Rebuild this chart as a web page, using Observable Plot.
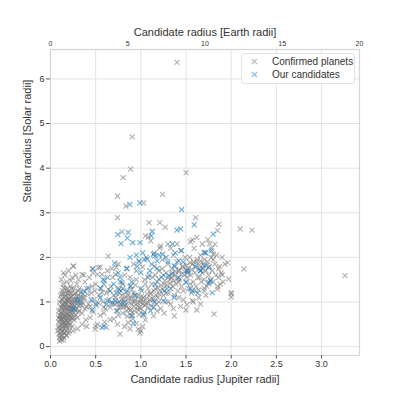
<!DOCTYPE html>
<html>
<head>
<meta charset="utf-8">
<script src="https://cdn.jsdelivr.net/npm/d3@7"></script>
<script src="https://cdn.jsdelivr.net/npm/@observablehq/plot@0.6"></script>
<style>
body { margin: 0; background: #fff; }
#wrap { position: relative; width: 399px; height: 399px; font-family: "Liberation Sans", Arial, sans-serif; }
#legend { position: absolute; left: 241px; top: 53px; width: 112px; height: 29px; border: 1px solid #e2e2e2; border-radius: 3px; background: rgba(255,255,255,0.85); font-size: 10px; color: #333; }
#legend .row { position: absolute; left: 0; height: 13px; line-height: 13px; white-space: nowrap; }
#legend svg { position: absolute; left: 9px; top: 3px; }
#legend span { position: absolute; left: 30px; }
</style>
</head>
<body>
<div id="wrap"></div>
<script>
const xTicks = [0, 0.5, 1.0, 1.5, 2.0, 2.5, 3.0];
const yTicks = [0, 1, 2, 3, 4, 5, 6];
const earthTicks = [0, 5, 10, 15, 20];
const xTitle = "Candidate radius [Jupiter radii]";
const topTitle = "Candidate radius [Earth radii]";
const yTitle = "Stellar radius [Solar radii]";
const seriesNames = ["Confirmed planets", "Our candidates"];
const seriesColors = ["#7a7a7a", "#1a80c2"];

// Confirmed planets: [Jupiter radii, Solar radii]
const confirmed = [
[1.40,6.37],[0.905,4.70],[0.886,3.98],[0.805,3.79],[1.50,3.90],[0.742,3.37],[0.834,3.15],[1.03,3.22],[1.24,3.41],[1.606,2.89],[0.742,2.89],[1.09,2.78],[1.21,2.78],[1.27,2.67],[1.864,2.74],[1.85,2.60],[2.10,2.64],[2.23,2.61],[2.14,1.74],[3.26,1.59],[1.96,1.88],[1.90,2.0],[1.97,1.51],[2.0,1.18],[2.0,1.11],[2.0,1.21],[1.81,0.73],[1.57,2.39],[1.76,2.31],[1.82,2.29],[1.80,2.07],[1.05,2.48],[1.085,2.46],[1.11,2.37],[1.21,2.21],[1.30,2.30],[0.79,2.57],[1.62,0.82],[1.50,0.82],[1.51,0.94],[1.57,1.03],[1.64,1.27],[1.70,1.31],[1.42,1.10],[1.85,1.29],[1.88,1.40],[1.90,1.61],[1.86,1.74],[1.80,1.95],[1.37,0.69],[1.14,0.69],[0.64,2.03],[0.255,1.81],[0.35,1.62],[0.46,1.74],[0.53,1.77],[0.57,1.62],[0.73,1.77],[0.77,0.28],[0.97,0.39],[0.86,0.54],[0.90,0.76],[0.62,0.43],[0.495,0.39],[0.44,0.65],[0.59,0.88],[0.50,0.46],
[0.36,1.10],[0.38,0.85],[0.40,1.30],[0.42,0.95],[0.43,1.55],[0.45,1.20],[0.47,0.78],[0.48,1.05],[0.50,1.40],[0.51,0.92],[0.52,1.62],[0.54,1.15],[0.55,0.70],[0.56,1.30],[0.58,1.00],[0.60,1.48],[0.61,0.85],[0.62,1.20],[0.63,1.70],[0.65,1.05],[0.66,0.60],[0.67,1.35],[0.68,0.95],[0.69,1.55],[0.70,1.15],[0.38,1.45],[0.41,1.18],[0.44,0.90],[0.46,1.35],[0.49,1.25],[0.53,0.98],[0.57,1.22],[0.59,0.75],[0.64,1.28],[0.66,0.88],[0.70,0.62],[0.39,0.60],[0.37,1.60],[0.47,1.65],[0.55,1.78],[0.68,1.75],[0.60,0.55],[0.52,0.50],
[0.71,0.95],[0.72,1.10],[0.73,0.80],[0.74,1.30],[0.75,0.70],[0.76,1.00],[0.77,1.45],[0.78,0.88],[0.79,1.15],[0.80,0.75],[0.81,1.05],[0.82,1.60],[0.83,0.92],[0.84,1.22],[0.85,0.68],[0.86,1.00],[0.87,0.85],[0.88,1.35],[0.89,1.10],[0.90,0.95],[0.91,0.62],[0.92,1.20],[0.93,0.80],[0.94,1.05],[0.95,1.50],[0.96,0.90],[0.97,1.15],[0.98,0.72],[0.99,1.00],[1.00,0.85],[1.01,1.25],[1.02,0.95],[1.03,1.10],[1.04,0.78],[1.05,1.40],[1.06,0.98],[1.07,1.18],[1.08,0.88],[1.09,1.60],[1.10,1.05],[0.72,1.62],[0.75,1.85],[0.80,1.40],[0.85,1.75],[0.88,1.55],[0.92,1.85],[0.95,1.70],[0.98,1.90],[1.02,1.78],[1.06,2.00],[0.74,0.50],[0.82,0.45],[0.88,0.40],[0.95,0.52],[1.00,0.35],[1.02,0.45],[1.05,0.60],[0.99,0.30],[0.78,1.25],[0.84,0.80],[0.90,1.28],[0.93,1.00],[0.97,0.82],[1.00,1.05],[1.03,0.70],[1.08,1.30],[0.86,1.15],[0.81,0.90],[0.76,1.20],[0.94,1.38],[1.04,1.50],[0.89,0.70],
[1.11,1.20],[1.12,0.90],[1.13,1.55],[1.14,1.05],[1.15,1.80],[1.16,1.30],[1.17,0.95],[1.18,1.45],[1.19,1.10],[1.20,1.70],[1.21,1.25],[1.22,0.85],[1.23,1.55],[1.24,1.95],[1.25,1.15],[1.26,1.40],[1.27,1.00],[1.28,1.65],[1.29,1.30],[1.30,1.85],[1.31,1.20],[1.32,1.50],[1.33,0.95],[1.34,1.75],[1.35,1.35],[1.36,2.05],[1.37,1.15],[1.38,1.60],[1.39,1.40],[1.40,1.90],[1.41,1.25],[1.42,1.70],[1.43,1.50],[1.44,2.15],[1.45,1.35],[1.46,1.80],[1.47,1.05],[1.48,1.60],[1.49,2.00],[1.50,1.45],[1.12,1.40],[1.15,2.10],[1.18,0.80],[1.22,2.25],[1.26,0.75],[1.30,1.00],[1.33,2.20],[1.36,0.85],[1.40,2.30],[1.44,0.90],[1.47,1.25],[1.20,1.00],[1.28,1.20],[1.34,1.55],[1.38,1.80],[1.42,1.45],[1.16,1.60],[1.24,1.75],
[1.51,1.55],[1.52,1.75],[1.53,1.30],[1.54,2.00],[1.55,1.60],[1.56,1.20],[1.57,1.85],[1.58,1.45],[1.59,2.20],[1.60,1.65],[1.61,1.35],[1.62,1.90],[1.63,1.55],[1.64,1.10],[1.65,1.75],[1.66,2.05],[1.67,1.45],[1.68,1.65],[1.69,1.85],[1.70,1.50],[1.71,2.10],[1.72,1.70],[1.73,1.35],[1.74,1.90],[1.75,1.60],[1.76,1.80],[1.77,1.50],[1.78,2.00],[1.79,1.70],[1.80,1.45],[1.82,1.85],[1.83,1.60],[1.84,2.05],[1.86,1.55],[1.87,1.80],[1.89,1.65],[1.91,1.45],[1.93,1.85],[1.55,2.35],[1.62,2.45],[1.68,2.30],[1.74,2.40],[1.78,2.20],[1.58,1.00],[1.66,0.95],[1.72,1.15],[1.60,1.25],[1.70,1.25],[1.55,1.40],[1.65,1.55],[1.75,1.40],[1.85,1.35],
[0.08,0.35],[0.09,0.55],[0.09,0.80],[0.10,0.20],[0.10,0.45],[0.10,0.70],[0.10,1.00],[0.11,0.30],[0.11,0.60],[0.11,0.90],[0.11,1.15],[0.12,0.15],[0.12,0.40],[0.12,0.75],[0.12,1.05],[0.13,0.25],[0.13,0.50],[0.13,0.85],[0.13,1.25],[0.14,0.35],[0.14,0.65],[0.14,0.95],[0.14,1.40],[0.15,0.20],[0.15,0.55],[0.15,0.80],[0.15,1.10],[0.16,0.30],[0.16,0.70],[0.16,1.00],[0.16,1.30],[0.17,0.45],[0.17,0.85],[0.17,1.20],[0.18,0.25],[0.18,0.60],[0.18,0.95],[0.18,1.45],[0.19,0.40],[0.19,0.75],[0.19,1.10],[0.20,0.55],[0.20,0.90],[0.20,1.25],[0.21,0.35],[0.21,0.70],[0.21,1.05],[0.22,0.50],[0.22,0.85],[0.22,1.35],[0.23,0.65],[0.23,1.00],[0.23,1.20],[0.24,0.45],[0.24,0.80],[0.24,1.55],[0.25,0.95],[0.25,1.15],[0.26,0.60],[0.26,0.75],[0.26,1.30],[0.27,0.90],[0.27,1.05],[0.28,0.70],[0.28,1.20],[0.29,0.85],[0.29,1.40],[0.30,1.00],[0.30,0.65],[0.31,1.15],[0.32,0.80],[0.32,1.30],[0.33,0.95],[0.34,1.10],[0.35,0.75],[0.10,0.12],[0.11,0.50],[0.12,0.62],[0.13,0.70],[0.14,0.78],[0.15,0.40],[0.16,0.55],[0.17,0.68],[0.18,0.80],[0.19,0.55],[0.20,0.70],[0.21,0.90],[0.22,0.65],[0.23,0.85],[0.13,1.05],[0.15,0.95],[0.17,1.05],[0.19,1.20],[0.21,1.20],[0.24,1.05],[0.12,1.50],[0.16,1.60],[0.20,1.70],[0.28,1.60],[0.31,1.50],[0.25,1.80],[0.11,0.25],[0.14,0.15],[0.17,0.25],[0.20,0.30],[0.25,0.35],[0.09,0.65],[0.14,0.52],[0.18,0.48],[0.30,0.40],[0.35,0.50],[0.40,0.45],
[0.085,0.42],[0.095,0.28],[0.105,0.62],[0.115,0.78],[0.125,0.33],[0.135,0.92],[0.145,0.58],[0.155,0.68],[0.165,0.88],[0.175,0.36],[0.185,0.72],[0.195,1.02],[0.205,0.48],[0.215,0.58],[0.225,1.12],[0.235,0.74],[0.245,0.92],[0.255,0.66],[0.265,1.02],[0.275,0.82],[0.285,0.96],[0.295,1.12],[0.305,0.78],[0.315,0.92],[0.325,1.05],[0.105,0.38],[0.115,0.18],[0.125,0.88],[0.135,0.45],[0.145,1.18],[0.155,0.30],[0.165,0.48],[0.175,0.95],[0.185,1.30],[0.195,0.65],[0.205,1.08],[0.215,0.78],[0.225,0.95],[0.235,1.30],[0.245,0.62],[0.125,1.18],[0.145,1.32],[0.165,1.12],[0.185,1.02],[0.205,0.82],[0.115,0.68],[0.135,0.60],[0.155,0.88],[0.175,0.58],[0.195,0.86],[0.265,1.18],[0.285,1.05],[0.305,1.25],[0.225,1.48],[0.145,1.65],[0.335,1.22],[0.345,0.92],[0.36,0.98],[0.38,1.08],[0.40,0.88],
[0.735,0.98],[0.755,0.88],[0.785,1.05],[0.805,0.95],[0.825,1.12],[0.845,0.90],[0.865,1.08],[0.885,0.82],[0.905,1.02],[0.925,0.90],[0.945,1.15],[0.965,0.98],[0.985,0.88],[1.005,1.12],[1.025,1.02],[1.045,0.92],[1.065,1.08],[1.085,0.98],[1.105,1.18],[1.125,1.08],[1.145,1.25],[1.165,1.15],[1.185,1.32],[1.205,1.18],[1.225,1.38],[1.245,1.28],[1.265,1.48],[1.285,1.38],[1.305,1.55],[1.325,1.42],[1.345,1.62],[1.365,1.48],[1.385,1.68],[1.405,1.52],[1.425,1.72],[1.445,1.62],[1.465,1.78],[1.485,1.68],[1.505,1.82],[1.525,1.70],[1.545,1.88],[1.565,1.72],[1.585,1.90],[1.605,1.78],[1.625,1.95],[1.645,1.82],[1.665,1.92],[1.685,1.75],[1.705,1.95],[1.725,1.82]
];

// Our candidates: [Jupiter radii, Solar radii]
const candidates = [
[0.878,3.19],[0.989,3.22],[1.451,3.07],[1.80,2.52],[1.79,1.21],[1.75,1.44],[1.77,1.47],[1.72,2.10],[1.78,2.15],[1.70,1.81],[1.66,1.70],[1.75,1.77],
[1.40,2.61],[1.44,2.64],[1.59,2.73],[1.126,2.58],[1.115,2.48],[1.35,2.30],[1.14,2.07],[0.745,2.51],[0.86,2.56],[0.85,2.43],[0.78,2.31],[0.91,2.33],[0.99,2.33],
[0.71,1.87],[0.47,1.74],[0.75,1.65],[0.37,1.25],[0.26,0.84],[0.57,0.43],[0.59,0.46],[0.916,0.52],[0.74,0.80],[0.46,0.82],[0.68,0.99],[0.72,1.03],[0.63,1.55],[0.55,1.31],[0.98,1.92],[1.07,1.96],[1.155,2.03],[1.24,2.07],[1.37,1.81],[1.50,1.44],[1.57,1.25],[1.14,0.88],[1.107,0.80],[0.85,1.25],[0.886,1.36],[1.20,1.51],[1.31,1.59],[1.0,1.66],[0.79,1.44],[0.63,1.03],[0.775,0.95],[0.59,1.40],[0.42,1.31],[0.30,1.06],[1.42,1.92],[1.66,1.70],[1.70,2.11],[1.51,1.70],[1.18,1.92],[1.25,1.03],[1.37,1.10],[1.03,0.73],[0.905,0.69],[0.76,1.29],
[0.55,1.10],[0.62,0.95],[0.66,1.25],[0.70,1.40],[0.73,1.20],[0.77,1.55],[0.82,1.00],[0.84,1.75],[0.90,1.45],[0.93,1.15],[0.96,1.80],[1.00,1.30],[1.04,1.95],[1.08,1.55],[1.12,1.85],[1.16,1.40],[1.20,2.05],[1.25,1.60],[1.30,1.90],[1.33,1.30],[1.38,2.10],[1.42,1.55],[1.47,1.90],[1.52,1.65],[1.55,1.30],[1.60,1.80],[1.63,1.20],[1.45,2.15],[1.28,2.00],[1.10,1.70],[0.58,1.50],[0.50,0.95],[0.45,1.05],[0.80,1.30],[1.15,1.00],[1.26,1.25],[1.35,1.65],[0.88,2.00],[0.95,2.05],[1.02,2.10],[1.18,1.75],[0.25,0.85],[0.33,1.00],[0.36,1.18]
];

const xMax = 3.42;
const toPt = a => a.map(([x, y]) => ({x, y}));

const chart = Plot.plot({
  width: 399,
  height: 399,
  marginLeft: 50,
  marginRight: 40,
  marginTop: 49,
  marginBottom: 44,
  style: {fontFamily: '"Liberation Sans", Arial, sans-serif', background: "#fff", color: "#333"},
  x: {domain: [0, xMax]},
  y: {domain: [-0.2, 6.66]},
  marks: [
    Plot.gridX(xTicks, {stroke: "#e3e3e3", strokeOpacity: 1, strokeWidth: 1}),
    Plot.gridY(yTicks, {stroke: "#e3e3e3", strokeOpacity: 1, strokeWidth: 1}),
    Plot.frame({stroke: "#d6d6d6", strokeWidth: 1.2}),
    Plot.dot(toPt(confirmed), {x: "x", y: "y", symbol: "times", r: 2.4, stroke: seriesColors[0], strokeOpacity: 0.6, strokeWidth: 1.1}),
    Plot.dot(toPt(candidates), {x: "x", y: "y", symbol: "times", r: 2.4, stroke: seriesColors[1], strokeOpacity: 0.65, strokeWidth: 1.1}),
    Plot.axisX(xTicks, {anchor: "bottom", tickSize: 3.5, tickPadding: 2, tickFormat: d => d.toFixed(1), fontSize: 9, label: null, stroke: "#555"}),
    Plot.axisX(earthTicks.map(e => e / 20 * xMax), {anchor: "top", tickSize: 0, tickPadding: 4, tickFormat: d => String(Math.round(d / xMax * 20)), fontSize: 7, label: null}),
    Plot.axisY(yTicks, {anchor: "left", tickSize: 4, tickPadding: 2, tickFormat: d => String(d), fontSize: 9, label: null, stroke: "#555"}),
    Plot.text([xTitle], {frameAnchor: "bottom", dy: 27, fontSize: 11, fill: "#333"}),
    Plot.text([topTitle], {frameAnchor: "top", dy: -21, fontSize: 11, fill: "#333"}),
    Plot.text([yTitle], {frameAnchor: "left", dx: -23, rotate: -90, fontSize: 11, fill: "#333"})
  ]
});

const wrap = document.getElementById("wrap");
wrap.appendChild(chart);

const legend = document.createElement("div");
legend.id = "legend";
seriesNames.forEach((name, i) => {
  const row = document.createElement("div");
  row.className = "row";
  row.style.top = (1 + i * 13) + "px";
  row.style.width = "100%";
  row.innerHTML = `<svg width="7" height="7"><path d="M1,1L6,6M6,1L1,6" stroke="${seriesColors[i]}" stroke-opacity="0.5" stroke-width="1.1"/></svg><span>${name}</span>`;
  legend.appendChild(row);
});
wrap.appendChild(legend);
</script>
</body>
</html>
